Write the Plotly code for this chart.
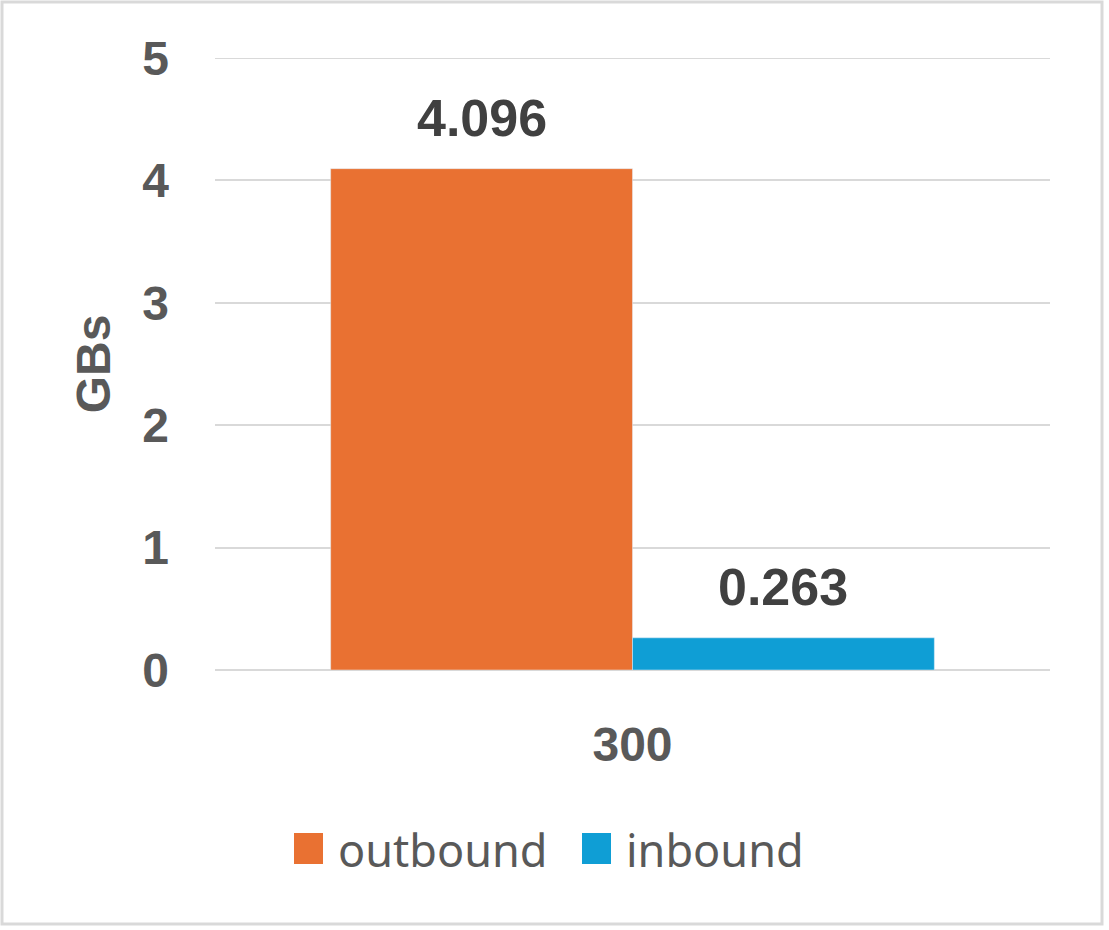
import plotly.graph_objects as go

categories = ["300"]
series_names = ["outbound", "inbound"]
outbound = [4.096]
inbound = [0.263]
colors = ["#E97132", "#0F9ED5"]
y_ticks = [0, 1, 2, 3, 4, 5]

BARGAP = 0.277
TICK_COLOR = "#595959"
LABEL_COLOR = "#404040"
GRID = "#d9d9d9"
BOLD = "Liberation Sans, Arial, sans-serif"

fig = go.Figure()
for name, vals, col in zip(series_names, [outbound, inbound], colors):
    fig.add_trace(go.Bar(x=categories, y=vals, name=name, marker_color=col,
                         showlegend=False))

# value labels above each bar (grouped offsets from bargap)
n = len(series_names)
bw = (1 - BARGAP) / n
annotations = []
for i, vals in enumerate([outbound, inbound]):
    off = -(1 - BARGAP) / 2 + bw * (i + 0.5)
    for j, v in enumerate(vals):
        annotations.append(dict(x=j + off, y=v, xref="x", yref="y", text="{:.3f}".format(v),
                                showarrow=False, yanchor="middle", yshift=51,
                                font=dict(family=BOLD, size=52, color=LABEL_COLOR, weight="bold")))

# legend drawn by hand so the swatches can be large
L, T, W, H = 215, 58, 835, 612
def px(x):
    return (x - L) / W
def py(y):
    return (T + H - y) / H

shapes = []
leg_x = [294, 582]
for i, name in enumerate(series_names):
    x0 = leg_x[i]
    shapes.append(dict(type="rect", xref="paper", yref="paper", x0=px(x0), x1=px(x0 + 29),
                       y0=py(864), y1=py(833), fillcolor=colors[i], line=dict(width=0)))
    annotations.append(dict(x=px(x0 + 42), y=py(849), xref="paper", yref="paper", text=name,
                            showarrow=False, xanchor="left", yanchor="middle",
                            font=dict(family="Noto Sans, sans-serif", size=45, color=TICK_COLOR)))

# top gridline (plotly skips the one sitting on the range edge)
shapes.append(dict(type="line", xref="x domain", yref="y", x0=0, x1=1,
                   y0=y_ticks[-1], y1=y_ticks[-1], line=dict(color=GRID, width=2), layer="below"))

# outer border
shapes.append(dict(type="rect", xref="paper", yref="paper", x0=px(2), x1=px(1102),
                   y0=py(924), y1=py(2), line=dict(color=GRID, width=3), layer="below"))

fig.update_layout(
    width=1109, height=930,
    margin=dict(l=L, r=1109 - L - W, t=T, b=930 - T - H),
    paper_bgcolor="white", plot_bgcolor="white",
    barmode="group", bargap=BARGAP, bargroupgap=0,
    annotations=annotations, shapes=shapes,
    xaxis=dict(type="category", showgrid=False, showline=False, ticks="",
               ticklabelstandoff=42,
               tickfont=dict(family=BOLD, size=48, color=TICK_COLOR, weight="bold")),
    yaxis=dict(range=[0, 5], tickvals=y_ticks, showgrid=True, gridcolor=GRID, gridwidth=2,
               zeroline=True, zerolinecolor=GRID, zerolinewidth=2, ticks="",
               ticklabelstandoff=45,
               tickfont=dict(family=BOLD, size=48, color=TICK_COLOR, weight="bold"),
               title=dict(text="GBs", standoff=16,
                          font=dict(family=BOLD, size=48, color=TICK_COLOR, weight="bold"))),
)

fig.write_html("out.html", config={"displayModeBar": False},
               post_script="document.body.style.margin='0';")
